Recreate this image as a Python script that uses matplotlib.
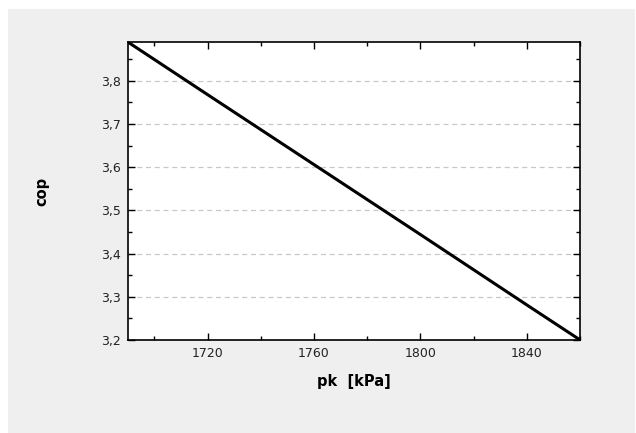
import numpy as np
import matplotlib.pyplot as plt
from matplotlib.patches import Rectangle
from matplotlib.ticker import MultipleLocator, FuncFormatter

# values
pk = [1690, 1720, 1760, 1800, 1840, 1860]
cop = [3.890, 3.768, 3.606, 3.444, 3.281, 3.200]

fig = plt.figure(figsize=(6.36, 4.33), dpi=100, facecolor="white")
# light gray panel behind the plot, white strip on left and top
fig.patches.append(Rectangle((8 / 636, 0), 1 - 9 / 636, 1 - 9 / 433,
                             transform=fig.transFigure, facecolor="#efefef",
                             edgecolor="none", zorder=-1))

ax = fig.add_axes([0.201, 0.215, 0.711, 0.688])
ax.set_facecolor("white")

ax.plot(pk, cop, color="black", lw=2.2, solid_capstyle="butt")

ax.set_xlim(1690, 1860)
ax.set_ylim(3.2, 3.89)
ax.xaxis.set_major_locator(MultipleLocator(40))
ax.xaxis.set_minor_locator(MultipleLocator(20))
ax.yaxis.set_major_locator(MultipleLocator(0.1))
ax.yaxis.set_minor_locator(MultipleLocator(0.05))
ax.yaxis.set_major_formatter(FuncFormatter(lambda v, p: f"{v:.1f}".replace(".", ",")))

ax.grid(axis="y", which="major", linestyle=(0, (4, 3)), color="#c8c8c8", lw=0.9)
ax.tick_params(which="both", direction="in", top=True, right=True,
               labelsize=9, colors="black", labelcolor="#222222")
ax.tick_params(which="major", length=5, width=1, pad=5)
ax.tick_params(which="minor", length=3, width=1)
for s in ax.spines.values():
    s.set_linewidth(1.2)

ax.set_xlabel("pk  [kPa]", fontsize=10.5, fontweight="bold", labelpad=10)
ax.set_ylabel("cop", fontsize=10.5, fontweight="bold", labelpad=37)

fig.savefig("out.png", dpi=100, facecolor=fig.get_facecolor())
